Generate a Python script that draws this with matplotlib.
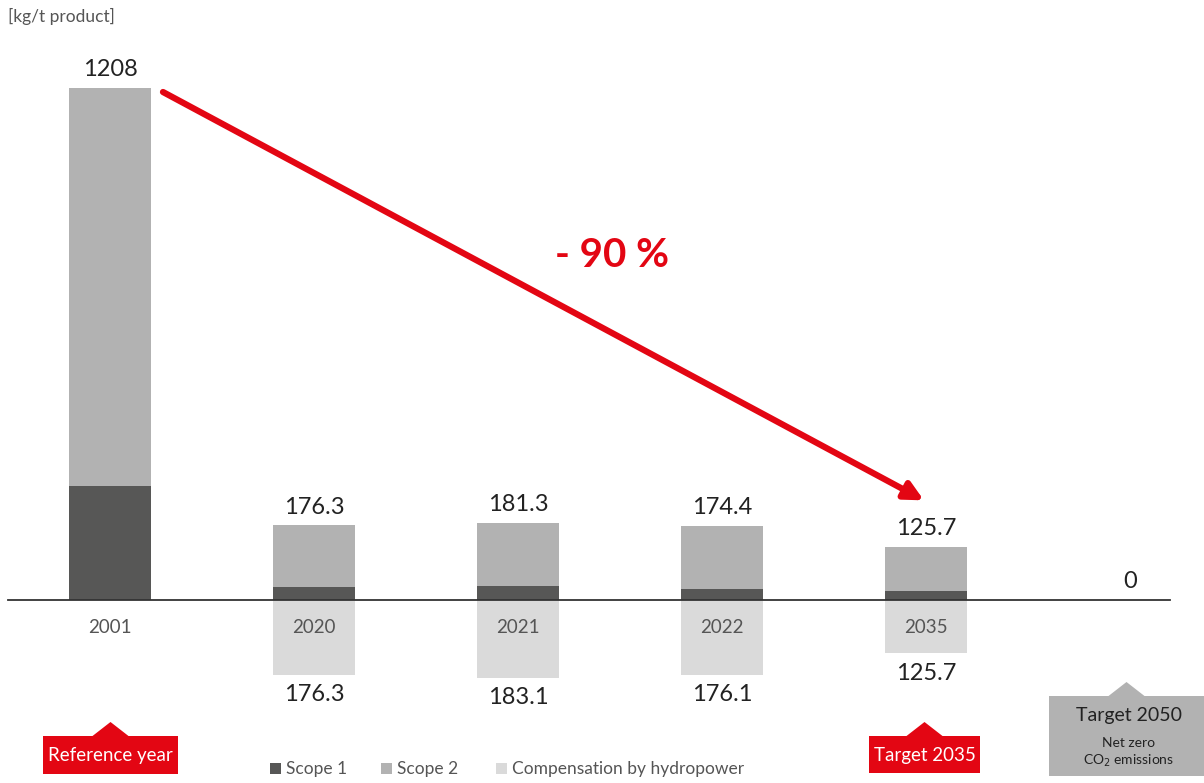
import numpy as np
import matplotlib.pyplot as plt
from matplotlib.patches import Polygon

plt.rcParams['font.family'] = ['Lato', 'DejaVu Sans']

years = ["2001", "2020", "2021", "2022", "2035", "2050"]
totals = [1208, 176.3, 181.3, 174.4, 125.7, 0]
scope1 = [269, 31, 33, 26, 21, 0]
scope2 = [t - s for t, s in zip(totals, scope1)]
compensation = [0, 176.3, 183.1, 176.1, 125.7, 0]

c_scope1 = "#575756"
c_scope2 = "#b2b2b2"
c_comp = "#dadada"
red = "#e30613"
txt = "#222222"

fig = plt.figure(figsize=(12.04, 7.83), dpi=100)
ax = fig.add_axes([0, 0, 1, 1])
x = np.arange(len(years))
w = 0.4

ax.bar(x, scope1, width=w, color=c_scope1)
ax.bar(x, scope2, width=w, bottom=scope1, color=c_scope2)
comp = [-c for c in compensation]
ax.bar(x, comp, width=w, color=c_comp)

ax.set_xlim(-0.539, 5.363)
ax.set_ylim(-431.6, 1415)
ax.axis("off")

# zero line
ax.plot([-0.5, 5.196], [0, 0], color="#333333", lw=1.3)

for i, t in enumerate(totals):
    lbl = "0" if t == 0 else ("%g" % t)
    ax.text(x[i], t + 18, lbl, ha="center", va="bottom", fontsize=17, color=txt)
    if years[i] != "2050":
        ax.text(x[i], -64, years[i], ha="center", va="center", fontsize=13.5, color="#555555")
    if compensation[i] > 0:
        ax.text(x[i], -compensation[i] - 22, "%g" % compensation[i], ha="center", va="top",
                fontsize=17, color=txt)

# reduction arrow
ax.annotate("", xy=(3.99, 235), xytext=(0.26, 1198),
            arrowprops=dict(arrowstyle="-|>,head_length=1.1,head_width=0.55",
                            color=red, lw=4.5, shrinkA=0, shrinkB=0))
ax.text(2.46, 813, "- 90 %", ha="center", va="center", fontsize=29,
        fontweight="bold", color=red)

# overlay in pixel coordinates for decorations
ov = fig.add_axes([0, 0, 1, 1], facecolor="none")
ov.set_xlim(0, 1204)
ov.set_ylim(783, 0)
ov.axis("off")

ov.text(8, 16, "[kg/t product]", ha="left", va="center", fontsize=12.5, color="#555555")


def badge(x0, x1, y0, y1, peak, color):
    cx = (x0 + x1) / 2
    pts = [(x0, y1), (x0, y0), (cx - 18, y0), (cx, peak), (cx + 18, y0), (x1, y0), (x1, y1)]
    ov.add_patch(Polygon(pts, closed=True, facecolor=color, edgecolor="none"))


badge(43, 178, 736, 774, 722, red)
ov.text(110.5, 756, "Reference year", ha="center", va="center", fontsize=13.5, color="white")
badge(869, 980, 736, 773, 722, red)
ov.text(924.5, 755, "Target 2035", ha="center", va="center", fontsize=13.5, color="white")
badge(1049, 1204, 696, 776, 682, "#b2b2b2")
ov.text(1129, 716, "Target 2050", ha="center", va="center", fontsize=14, color=txt)
ov.text(1129, 743, "Net zero", ha="center", va="center", fontsize=10, color=txt)
ov.text(1129, 761, r"CO$_2$ emissions", ha="center", va="center", fontsize=10, color=txt)

# legend
for sx, col, lab in [(270, c_scope1, "Scope 1"), (381, c_scope2, "Scope 2"),
                     (496, c_comp, "Compensation by hydropower")]:
    ov.add_patch(plt.Rectangle((sx, 763), 11, 11, facecolor=col, edgecolor="none"))
    ov.text(sx + 16, 769, lab, ha="left", va="center", fontsize=12.5, color="#555555")

fig.savefig("out.png", dpi=100)
